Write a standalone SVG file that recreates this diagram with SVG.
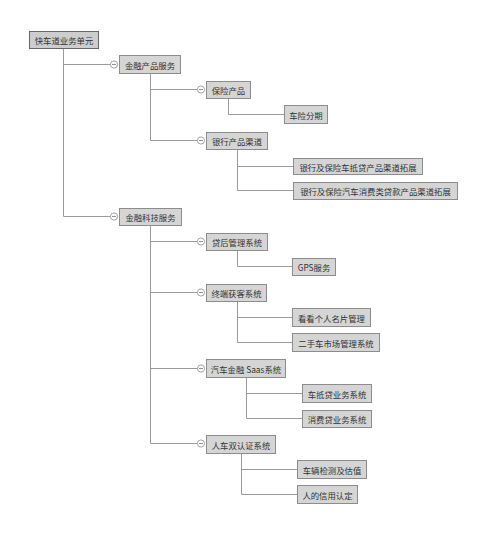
<svg xmlns="http://www.w3.org/2000/svg" width="484" height="545" viewBox="0 0 484 545">
<style>
.n rect{fill:#d5d5d5;stroke:#8c8c8c;stroke-width:1}
.n.root rect{fill:#cdcdcd;stroke:#666}
.n text{font-family:"Noto Sans CJK SC","Liberation Sans",sans-serif;font-size:8.4px;fill:#333;text-anchor:middle;dominant-baseline:central}
.c path{fill:none;stroke:#9a9a9a;stroke-width:1}
.t circle{fill:#fff;stroke:#8c8c8c;stroke-width:0.8}
.t path{stroke:#777;stroke-width:0.8}
</style>
<rect width="484" height="545" fill="#fff"/>
<g id="connectors" class="c">
<path d="M63.5 48V216.5M63.5 64.5H110.5M63.5 216.5H110.5"/>
<path d="M150.5 73V140.5M150.5 89.5H197.5M150.5 140.5H197.5"/>
<path d="M228.5 98V114.5H284"/>
<path d="M237.5 149V190.5H293M237.5 166.5H293"/>
<path d="M150.5 225V443.5M150.5 241.5H197.5M150.5 292.5H197.5M150.5 368.5H197.5M150.5 443.5H197.5"/>
<path d="M237.5 250V266.5H292"/>
<path d="M237.5 301V342.5H292M237.5 317.5H292"/>
<path d="M246.5 377V418.5H302M246.5 393.5H302"/>
<path d="M241.5 453V494.5H297M241.5 469.5H297"/>
</g>
<g id="toggles" class="t">
<g transform="translate(114,64.5)"><circle r="3.6"/><path d="M-2 0H2"/></g>
<g transform="translate(114,216.5)"><circle r="3.6"/><path d="M-2 0H2"/></g>
<g transform="translate(201,89.5)"><circle r="3.6"/><path d="M-2 0H2"/></g>
<g transform="translate(201,140.5)"><circle r="3.6"/><path d="M-2 0H2"/></g>
<g transform="translate(201,241.5)"><circle r="3.6"/><path d="M-2 0H2"/></g>
<g transform="translate(201,292.5)"><circle r="3.6"/><path d="M-2 0H2"/></g>
<g transform="translate(201,368.5)"><circle r="3.6"/><path d="M-2 0H2"/></g>
<g transform="translate(201,443.5)"><circle r="3.6"/><path d="M-2 0H2"/></g>
</g>
<g id="root" class="n root"><rect x="29.5" y="31.5" width="69" height="17"/><text x="64" y="40">快车道业务单元</text></g>
<g id="n1" class="n"><rect x="119.5" y="55.5" width="61" height="18"/><text x="150" y="64.5">金融产品服务</text></g>
<g id="n11" class="n"><rect x="206.5" y="81.5" width="44" height="17"/><text x="228.5" y="90">保险产品</text></g>
<g id="n111" class="n"><rect x="284.5" y="105.5" width="43" height="18"/><text x="306" y="114.5">车险分期</text></g>
<g id="n12" class="n"><rect x="206.5" y="132.5" width="61" height="17"/><text x="237" y="141">银行产品渠道</text></g>
<g id="n121" class="n"><rect x="293.5" y="158.5" width="129" height="16"/><text x="358" y="166.5">银行及保险车抵贷产品渠道拓展</text></g>
<g id="n122" class="n"><rect x="293.5" y="182.5" width="164" height="17"/><text x="375.5" y="191">银行及保险汽车消费类贷款产品渠道拓展</text></g>
<g id="n2" class="n"><rect x="119.5" y="208.5" width="62" height="17"/><text x="150.5" y="217">金融科技服务</text></g>
<g id="n21" class="n"><rect x="206.5" y="233.5" width="61" height="17"/><text x="237" y="242">贷后管理系统</text></g>
<g id="n211" class="n"><rect x="292.5" y="258.5" width="43" height="17"/><text x="314" y="267">GPS服务</text></g>
<g id="n22" class="n"><rect x="206.5" y="284.5" width="60" height="17"/><text x="236.5" y="293">终端获客系统</text></g>
<g id="n221" class="n"><rect x="292.5" y="308.5" width="78" height="18"/><text x="331.5" y="317.5">看看个人名片管理</text></g>
<g id="n222" class="n"><rect x="292.5" y="333.5" width="87" height="18"/><text x="336" y="342.5">二手车市场管理系统</text></g>
<g id="n23" class="n"><rect x="206.5" y="359.5" width="79" height="18"/><text x="246" y="368.5">汽车金融 Saas系统</text></g>
<g id="n231" class="n"><rect x="302.5" y="384.5" width="69" height="18"/><text x="337" y="393.5">车抵贷业务系统</text></g>
<g id="n232" class="n"><rect x="302.5" y="410.5" width="69" height="17"/><text x="337" y="419">消费贷业务系统</text></g>
<g id="n24" class="n"><rect x="206.5" y="435.5" width="69" height="18"/><text x="241" y="444.5">人车双认证系统</text></g>
<g id="n241" class="n"><rect x="297.5" y="460.5" width="69" height="18"/><text x="332" y="469.5">车辆检测及估值</text></g>
<g id="n242" class="n"><rect x="297.5" y="485.5" width="60" height="18"/><text x="327.5" y="494.5">人的信用认定</text></g>
</svg>
